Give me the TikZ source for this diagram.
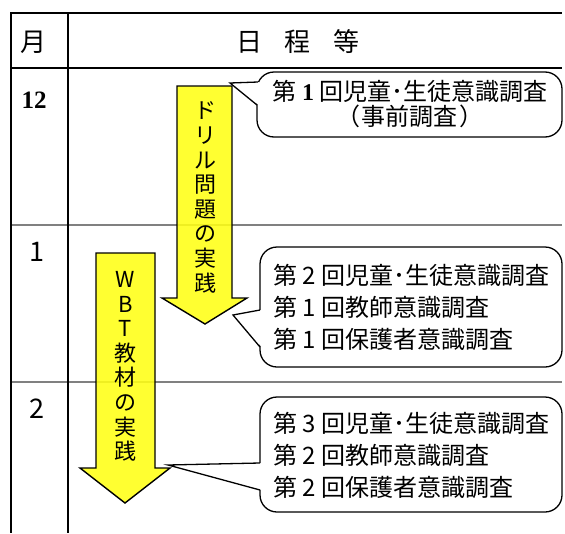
\documentclass[tikz,border=0pt]{standalone}
\usepackage{fontspec}
\setmainfont{Noto Sans CJK JP}
\newfontfamily\tms{Liberation Serif}
\definecolor{arrowyellow}{RGB}{255,255,20}
\definecolor{rulegray}{RGB}{128,128,128}
\begin{document}
\begin{tikzpicture}[x=1pt,y=-1pt,
  rule/.style={line width=2pt, black},
  grayrule/.style={line width=1.6pt, rulegray},
  arrowshape/.style={draw=black, line width=1.4pt, fill=arrowyellow, fill opacity=0.88, line join=miter},
  callbox/.style={draw=black, line width=1.3pt, rounded corners=17pt, fill=white, rectangle, inner sep=0pt},
  wedge/.style={draw=black, line width=1.3pt, line join=miter},
  txt/.style={inner sep=0pt, font=\fontsize{24}{32}\selectfont},
  vtext/.style={inner sep=0pt, align=center, font=\fontsize{22}{24.6}\selectfont},
  monthlbl/.style={inner sep=0pt, font=\fontsize{27}{30}\selectfont}]
\useasboundingbox (0,0) rectangle (565,533);
% row separators
\draw[grayrule] (11,225) -- (562,225);
\draw[grayrule] (11,382) -- (562,382);
% table frame
\draw[rule] (10,13) -- (562,13);
\draw[rule] (10,68) -- (562,68);
\draw[rule] (11,12) -- (11,533);
\draw[rule] (68,12) -- (68,533);
% header and month labels
\node[monthlbl, font=\fontsize{26}{30}\selectfont] (hmonth) at (33,42) {月};
\node[monthlbl, font=\fontsize{26}{30}\selectfont] (hsched) at (298,42) {日\hspace{23pt}程\hspace{23pt}等};
\node[monthlbl, font=\fontsize{25}{28}\selectfont\tms\bfseries] (m12) at (34,100) {12};
\node[monthlbl] (m1) at (37,252) {1};
\node[monthlbl] (m2) at (37,409) {2};
% drill arrow
\filldraw[arrowshape] (177,86) -- (232,86) -- (232,298) -- (247,298) -- (205,324) -- (162,298) -- (177,298) -- cycle;
\node[vtext] (drill) at (205,197.5) {ド\\リ\\ル\\問\\題\\の\\実\\践};
% WBT arrow
\filldraw[arrowshape] (96,253) -- (155,253) -- (155,468) -- (170,468) -- (125,503) -- (80,468) -- (96,468) -- cycle;
\node[vtext] (wbt) at (125.5,366.5) {W\\B\\T\\教\\材\\の\\実\\践};
% callout 1
\node[callbox, minimum width=305pt, minimum height=65pt] (c1) at (409.5,104.5) {};
\node[txt, align=center, font=\fontsize{24}{25}\selectfont] (c1t) at (410,104.5) {第 {\tms\bfseries 1} 回児童･生徒意識調査\\（\hspace{2pt}事前調査\hspace{2pt}）};
\coordinate (t1) at (230,83);
\coordinate (c1u) at (258,82);
\coordinate (c1l) at (257,105);
\fill[white] (t1) -- ([xshift=1.6pt]c1u) -- ([xshift=1.6pt]c1l) -- cycle;
\draw[wedge] (c1u) -- (t1) -- (c1l);
% callout 2
\node[callbox, minimum width=302pt, minimum height=120pt] (c2) at (411,307) {};
\node[txt, anchor=west, align=left] (c2t) at (273,307) {第 2 回児童･生徒意識調査\\第 1 回教師意識調査\\第 1 回保護者意識調査};
\coordinate (t2) at (233,315);
\coordinate (c2u) at (260,310);
\coordinate (c2l) at (260,347);
\fill[white] (t2) -- ([xshift=1.6pt]c2u) -- ([xshift=1.6pt]c2l) -- cycle;
\draw[wedge] (c2u) -- (t2) -- (c2l);
% callout 3
\node[callbox, minimum width=302pt, minimum height=115pt] (c3) at (411,454.5) {};
\node[txt, anchor=west, align=left] (c3t) at (273,455) {第 3 回児童･生徒意識調査\\第 2 回教師意識調査\\第 2 回保護者意識調査};
\coordinate (t3) at (168,465);
\coordinate (c3u) at (260,463);
\coordinate (c3l) at (260,490);
\fill[white] (t3) -- ([xshift=1.6pt]c3u) -- ([xshift=1.6pt]c3l) -- cycle;
\draw[wedge] (c3u) -- (t3) -- (c3l);
\end{tikzpicture}
\end{document}
